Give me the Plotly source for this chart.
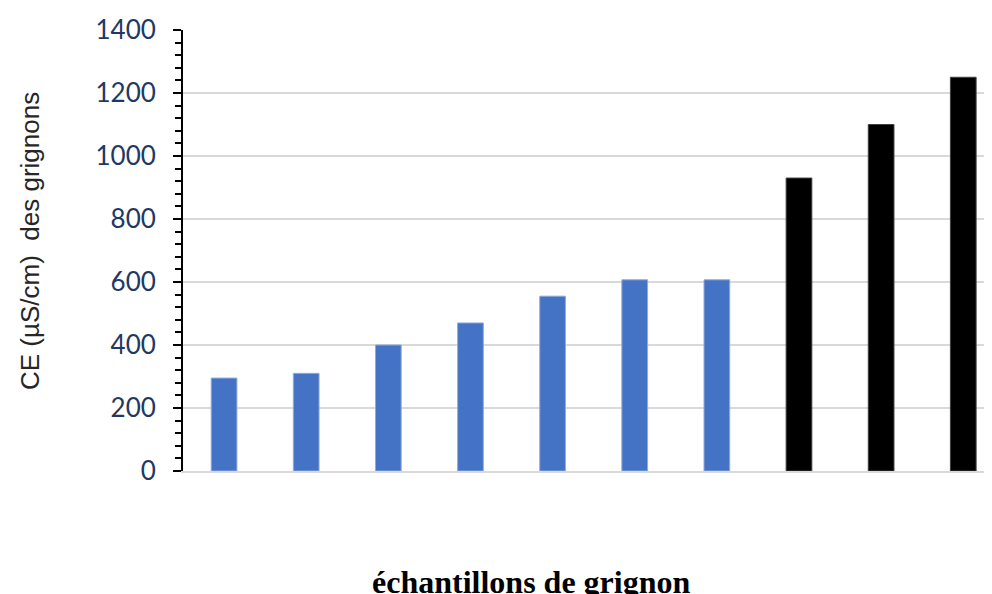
import plotly.graph_objects as go

samples = list(range(10))
values = [295, 310, 400, 470, 555, 607, 607, 930, 1100, 1250]
colors = ["#4472C4"] * 7 + ["#000000"] * 3
outline = ["#8FAADC"] * 7 + ["#404040"] * 3
y_ticks = [0, 200, 400, 600, 800, 1000, 1200, 1400]

fig = go.Figure()
fig.add_trace(go.Bar(
    x=samples, y=values, width=0.313,
    marker=dict(color=colors, line=dict(color=outline, width=1)),
))

OFF = 8  # page body margin
W, H = 992 - OFF, 594 - OFF
L, R, T, B = 183 - OFF, 0, 30 - OFF, 123
pw = W - L - R
ph = H - T - B
bottom = H - B  # plot bottom in figure px

fig.update_layout(
    width=W, height=H,
    margin=dict(l=L, r=R, t=T, b=B),
    plot_bgcolor="white", paper_bgcolor="white",
    showlegend=False,
    xaxis=dict(range=[-0.5, 9.35], showticklabels=False, showgrid=False,
               zeroline=False, showline=True, linecolor="#D9D9D9", linewidth=2,
               ticks=""),
    yaxis=dict(range=[0, 1400], tickvals=y_ticks, showgrid=True,
               gridcolor="#D9D9D9", gridwidth=2, zeroline=False,
               showline=True, linecolor="black", linewidth=2,
               ticks="outside", ticklen=8, tickwidth=2, tickcolor="black",
               minor=dict(dtick=40, ticks="outside", ticklen=6, tickwidth=2,
                          tickcolor="black", showgrid=False),
               tickfont=dict(family="Lato", size=26, color="#1F3864"),
               ticklabelstandoff=12),
    annotations=[
        dict(text="CE (µS/cm)\u00a0 des grignons", textangle=-90,
             xref="paper", yref="paper",
             x=(30 - OFF - L) / pw, y=(bottom - (241 - OFF)) / ph,
             xanchor="center", yanchor="middle", showarrow=False,
             font=dict(family="Liberation Sans", size=26, color="#262626")),
        dict(text="<b>échantillons de grignon</b>",
             xref="paper", yref="paper",
             x=(531 - OFF - L) / pw, y=-((582 - OFF) - bottom) / ph,
             xanchor="center", yanchor="middle", showarrow=False,
             font=dict(family="Liberation Serif", size=32, color="black")),
    ],
)

fig.write_html("out.html")
